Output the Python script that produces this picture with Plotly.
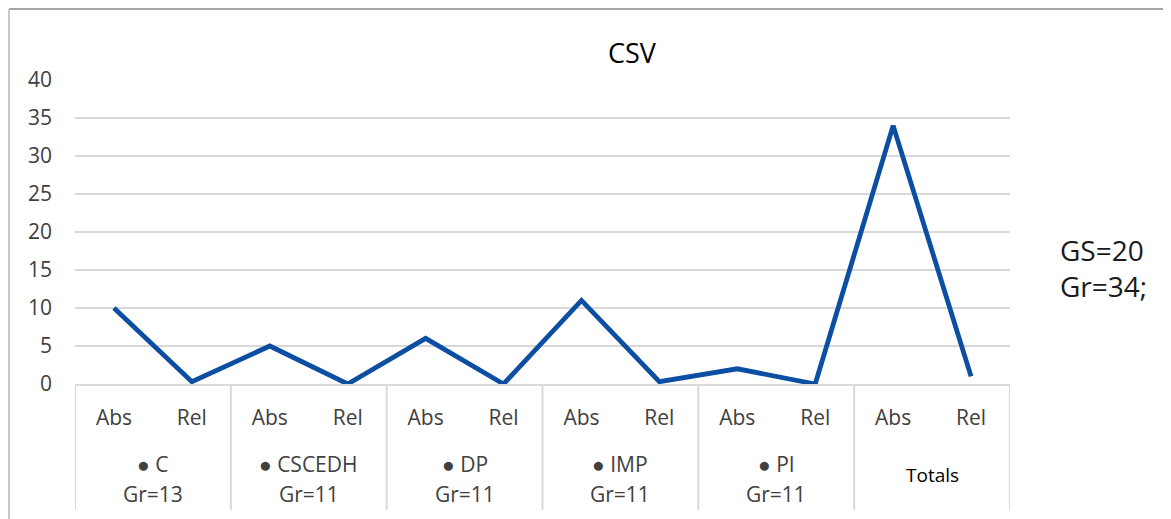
import plotly.graph_objects as go

# ---- data ----
groups = ["C", "CSCEDH", "DP", "IMP", "PI", "Totals"]
group_gr = ["Gr=13", "Gr=11", "Gr=11", "Gr=11", "Gr=11", ""]
sub_labels = ["Abs", "Rel"]
values = [10, 0.3, 5, 0, 6, 0, 11, 0.3, 2, 0, 34, 1]
y_ticks = [0, 5, 10, 15, 20, 25, 30, 35, 40]
title_text = "CSV"
side_note = ["GS=20", "Gr=34;"]

# ---- geometry helpers (reference pixels -> figure paper coords) ----
W, H = 1171, 519
OFF = 8  # page body margin
L, R_px, T, B_px = 75 - OFF, 1010 - OFF, 80 - OFF, 384 - OFF
pw, ph = R_px - L, B_px - T


def px_x(x):
    return (x - OFF - L) / pw


def px_y(y):
    return (B_px - (y - OFF)) / ph


xs = list(range(len(values)))
tickvals = xs
ticktext = [sub_labels[i % 2] for i in xs]

FONT = "Open Sans"
GREY = "#404040"
fig = go.Figure()
fig.add_trace(go.Scatter(
    x=xs, y=values, mode="lines",
    line=dict(color="#0b4ea2", width=4.8),
    hoverinfo="y", showlegend=False,
))

shapes = []
# vertical dividers of the category table
for k in range(len(groups) + 1):
    shapes.append(dict(type="line", xref="x", yref="paper",
                       x0=2 * k - 0.5, x1=2 * k - 0.5,
                       y0=0, y1=px_y(510),
                       line=dict(color="#d9d9d9", width=2)))
# outer frame (top and left), as near the page edge as possible
top_y = (B_px - 1) / ph
left_x = (1 - L) / pw
shapes.append(dict(type="line", xref="paper", yref="paper",
                   x0=left_x, x1=(W - L) / pw, y0=top_y, y1=top_y,
                   line=dict(color="#a6a6a6", width=2)))
shapes.append(dict(type="line", xref="paper", yref="paper",
                   x0=left_x, x1=left_x, y0=top_y, y1=-(H - B_px) / ph,
                   line=dict(color="#c8c8c8", width=2)))

annotations = []
for g, (name, gr) in enumerate(zip(groups, group_gr)):
    cx = 2 * g + 0.5
    if gr:
        annotations.append(dict(x=cx, y=px_y(464), xref="x", yref="paper",
                                xanchor="center", yanchor="middle",
                                text="● " + name,
                                showarrow=False, font=dict(family=FONT, size=21, color=GREY)))
        annotations.append(dict(x=cx, y=px_y(494), xref="x", yref="paper",
                                xanchor="center", yanchor="middle",
                                text=gr, showarrow=False,
                                font=dict(family=FONT, size=21, color=GREY)))
    else:
        annotations.append(dict(x=cx, y=px_y(475), xref="x", yref="paper",
                                xanchor="center", yanchor="middle",
                                text=name, showarrow=False,
                                font=dict(family=FONT, size=19, color="#000000")))

annotations.append(dict(x=px_x(632), y=px_y(53), xref="paper", yref="paper",
                        xanchor="center", yanchor="middle",
                        text=title_text, showarrow=False,
                        font=dict(family=FONT, size=27, color="#000000")))
annotations.append(dict(x=px_x(1058), y=px_y(268), xref="paper", yref="paper",
                        xanchor="left", yanchor="middle", align="left",
                        text=side_note[0] + "<br>" + side_note[1], showarrow=False,
                        font=dict(family=FONT, size=28, color="#1a1a1a")))

fig.update_layout(
    width=W, height=H,
    margin=dict(l=L, r=W - R_px, t=T, b=H - B_px, pad=0),
    paper_bgcolor="white", plot_bgcolor="white",
    shapes=shapes, annotations=annotations,
    xaxis=dict(range=[-0.5, len(values) - 0.5], tickvals=tickvals, ticktext=ticktext,
               showgrid=False, zeroline=False, showline=True, linecolor="#d9d9d9", linewidth=2,
               ticks="", ticklabelstandoff=14,
               tickfont=dict(family=FONT, size=21, color=GREY), fixedrange=True),
    yaxis=dict(range=[0, 40], tickvals=y_ticks, showgrid=True, gridcolor="#d9d9d9", gridwidth=2,
               zeroline=False, showline=False, ticks="", ticklabelstandoff=22,
               tickfont=dict(family=FONT, size=21, color=GREY), fixedrange=True),
    font=dict(family=FONT),
)

fig.write_html("out.html")
